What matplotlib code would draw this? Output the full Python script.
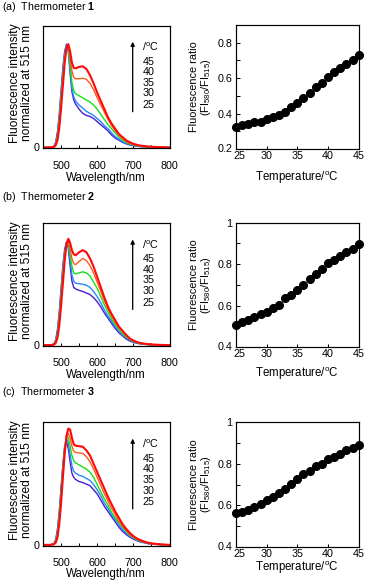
import matplotlib
matplotlib.use("Agg")
import matplotlib.pyplot as plt
from matplotlib.ticker import MultipleLocator, FixedLocator
from matplotlib.transforms import ScaledTranslation

plt.rcParams['font.family'] = ['Liberation Sans', 'DejaVu Sans']
plt.rcParams['mathtext.fontset'] = 'custom'
plt.rcParams['mathtext.rm'] = 'Liberation Sans'
plt.rcParams['mathtext.it'] = 'Liberation Sans:italic'
plt.rcParams['mathtext.bf'] = 'Liberation Sans:bold'

# ---------------- data ----------------
temps_legend = ["45", "40", "35", "30", "25"]
curve_temps = [25, 30, 35, 40, 45]
curve_colors = ["#4a1ed6", "#2a86ff", "#16e016", "#ff5a1e", "#ff0a0a"]

wl = [450, 470, 480, 485, 490, 495, 500, 505, 510, 515, 520, 525, 530, 535, 540,
      550, 560, 570, 580, 590, 600, 610, 620, 630, 640, 650, 660, 670, 680, 690,
      700, 710, 720, 740, 760, 780, 800]

# Thermometer 1 spectra (25, 30, 35, 40, 45 degC)
spec1_25 = [0, 0, 0.01, 0.05, 0.15, 0.32, 0.55, 0.77, 0.93, 1.00, 0.93, 0.72, 0.54, 0.46, 0.42,
            0.37, 0.33, 0.31, 0.30, 0.28, 0.25, 0.22, 0.19, 0.16, 0.12, 0.09, 0.07, 0.05, 0.035, 0.025,
            0.017, 0.012, 0.008, 0.003, 0.001, 0, 0]
spec1_30 = [0, 0, 0.01, 0.04, 0.13, 0.30, 0.52, 0.74, 0.91, 0.99, 0.95, 0.76, 0.57, 0.49, 0.45,
            0.41, 0.38, 0.35, 0.33, 0.31, 0.28, 0.25, 0.21, 0.18, 0.14, 0.105, 0.08, 0.055, 0.04, 0.028,
            0.02, 0.014, 0.01, 0.004, 0.001, 0, 0]
spec1_35 = [0, 0, 0.008, 0.035, 0.11, 0.27, 0.48, 0.70, 0.88, 0.98, 0.97, 0.81, 0.63, 0.55, 0.52,
            0.50, 0.48, 0.46, 0.44, 0.41, 0.37, 0.32, 0.27, 0.22, 0.18, 0.14, 0.10, 0.07, 0.05, 0.035,
            0.025, 0.017, 0.012, 0.005, 0.002, 0, 0]
spec1_40 = [0, 0, 0.006, 0.03, 0.09, 0.23, 0.43, 0.65, 0.85, 0.97, 0.99, 0.87, 0.74, 0.68, 0.665,
            0.665, 0.67, 0.66, 0.62, 0.56, 0.48, 0.41, 0.34, 0.27, 0.21, 0.16, 0.12, 0.085, 0.06, 0.04,
            0.03, 0.02, 0.015, 0.007, 0.003, 0.001, 0]
spec1_45 = [0, 0, 0.005, 0.02, 0.07, 0.19, 0.38, 0.60, 0.82, 0.96, 1.00, 0.93, 0.82, 0.77, 0.765,
            0.78, 0.785, 0.76, 0.70, 0.62, 0.53, 0.45, 0.37, 0.29, 0.23, 0.18, 0.13, 0.10, 0.07, 0.05,
            0.035, 0.025, 0.018, 0.01, 0.005, 0.002, 0]

# Thermometer 2 spectra
spec2_25 = [0, 0, 0.01, 0.05, 0.15, 0.32, 0.55, 0.77, 0.93, 1.00, 0.94, 0.77, 0.62, 0.56, 0.545,
            0.53, 0.52, 0.505, 0.49, 0.46, 0.42, 0.37, 0.31, 0.26, 0.21, 0.16, 0.12, 0.09, 0.06, 0.04,
            0.028, 0.018, 0.012, 0.005, 0.002, 0, 0]
spec2_30 = [0, 0, 0.01, 0.04, 0.13, 0.30, 0.52, 0.74, 0.91, 0.99, 0.96, 0.82, 0.68, 0.62, 0.60,
            0.595, 0.59, 0.58, 0.56, 0.52, 0.47, 0.41, 0.34, 0.28, 0.23, 0.18, 0.14, 0.10, 0.07, 0.05,
            0.032, 0.022, 0.015, 0.006, 0.002, 0, 0]
spec2_35 = [0, 0, 0.008, 0.035, 0.11, 0.27, 0.48, 0.70, 0.88, 0.98, 0.98, 0.88, 0.76, 0.70, 0.69,
            0.70, 0.71, 0.70, 0.67, 0.61, 0.55, 0.47, 0.39, 0.32, 0.25, 0.20, 0.15, 0.11, 0.08, 0.055,
            0.035, 0.025, 0.017, 0.007, 0.003, 0, 0]
spec2_40 = [0, 0, 0.006, 0.03, 0.09, 0.23, 0.43, 0.65, 0.85, 0.99, 1.00, 0.93, 0.84, 0.79, 0.78,
            0.81, 0.84, 0.82, 0.77, 0.70, 0.61, 0.52, 0.43, 0.35, 0.28, 0.22, 0.17, 0.13, 0.09, 0.06,
            0.04, 0.028, 0.02, 0.009, 0.004, 0.001, 0]
spec2_45 = [0, 0, 0.005, 0.02, 0.07, 0.19, 0.38, 0.60, 0.82, 0.98, 1.03, 0.99, 0.92, 0.88, 0.87,
            0.90, 0.92, 0.90, 0.84, 0.76, 0.66, 0.56, 0.46, 0.37, 0.30, 0.24, 0.18, 0.14, 0.10, 0.065,
            0.045, 0.03, 0.02, 0.01, 0.005, 0.002, 0]

# Thermometer 3 spectra
spec3_25 = [0, 0, 0.01, 0.05, 0.15, 0.32, 0.55, 0.77, 0.95, 0.99, 0.93, 0.80, 0.69, 0.65, 0.63,
            0.61, 0.60, 0.585, 0.57, 0.53, 0.49, 0.43, 0.37, 0.32, 0.27, 0.22, 0.17, 0.13, 0.10, 0.075,
            0.055, 0.04, 0.028, 0.012, 0.005, 0.001, 0]
spec3_30 = [0, 0, 0.01, 0.04, 0.13, 0.30, 0.53, 0.76, 0.94, 1.02, 0.98, 0.87, 0.76, 0.71, 0.69,
            0.67, 0.66, 0.64, 0.62, 0.58, 0.53, 0.47, 0.40, 0.35, 0.29, 0.24, 0.19, 0.15, 0.115, 0.085,
            0.062, 0.045, 0.032, 0.014, 0.006, 0.002, 0]
spec3_35 = [0, 0, 0.008, 0.035, 0.11, 0.27, 0.50, 0.73, 0.93, 1.04, 1.03, 0.95, 0.86, 0.81, 0.79,
            0.77, 0.75, 0.73, 0.70, 0.65, 0.58, 0.51, 0.44, 0.38, 0.31, 0.26, 0.21, 0.17, 0.13, 0.095,
            0.07, 0.05, 0.037, 0.016, 0.007, 0.002, 0]
spec3_40 = [0, 0, 0.006, 0.03, 0.09, 0.23, 0.45, 0.69, 0.90, 1.04, 1.07, 1.03, 0.95, 0.90, 0.89,
            0.885, 0.88, 0.85, 0.80, 0.73, 0.65, 0.57, 0.49, 0.42, 0.35, 0.29, 0.23, 0.18, 0.14, 0.10,
            0.075, 0.055, 0.04, 0.018, 0.008, 0.003, 0]
spec3_45 = [0, 0, 0.005, 0.02, 0.07, 0.20, 0.40, 0.65, 0.88, 1.05, 1.12, 1.11, 1.03, 0.97, 0.955,
            0.95, 0.945, 0.91, 0.86, 0.78, 0.70, 0.62, 0.54, 0.46, 0.39, 0.32, 0.26, 0.20, 0.155, 0.115,
            0.085, 0.06, 0.045, 0.02, 0.01, 0.004, 0]

spectra = [
    [spec1_25, spec1_30, spec1_35, spec1_40, spec1_45],
    [spec2_25, spec2_30, spec2_35, spec2_40, spec2_45],
    [spec3_25, spec3_30, spec3_35, spec3_40, spec3_45],
]

temperature = list(range(25, 46))
ratio1 = [0.326, 0.333, 0.34, 0.35, 0.355, 0.367, 0.38, 0.392, 0.41, 0.435, 0.462,
          0.49, 0.515, 0.548, 0.575, 0.606, 0.635, 0.656, 0.682, 0.703, 0.728]
ratio2 = [0.507, 0.52, 0.53, 0.545, 0.56, 0.571, 0.59, 0.605, 0.635, 0.65, 0.675,
          0.70, 0.73, 0.755, 0.775, 0.804, 0.82, 0.84, 0.86, 0.875, 0.897]
ratio3 = [0.562, 0.568, 0.578, 0.592, 0.607, 0.624, 0.638, 0.66, 0.68, 0.703, 0.726,
          0.752, 0.766, 0.787, 0.80, 0.822, 0.832, 0.847, 0.865, 0.872, 0.889]
ratios = [ratio1, ratio2, ratio3]

panel_letters = ["(a)", "(b)", "(c)"]
panel_numbers = ["1", "2", "3"]
ratio_ylims = [(0.2, 0.9), (0.4, 1.0), (0.4, 1.0)]
ratio_yticks = [[0.2, 0.4, 0.6, 0.8], [0.4, 0.6, 0.8, 1.0], [0.4, 0.6, 0.8, 1.0]]
ratio_yticklabels = [["0.2", "0.4", "0.6", "0.8"], ["0.4", "0.6", "0.8", "1"], ["0.4", "0.6", "0.8", "1"]]

# ---------------- layout ----------------
W, H = 366, 582
DPI = 72
fig = plt.figure(figsize=(W / DPI, H / DPI), dpi=DPI)
fig.patch.set_facecolor("white")

left_box = [(43, 25.5, 169.5, 148.3), (43, 223.3, 169.5, 346.0), (43, 422.3, 169.5, 545.7)]
right_box = [(236, 25, 358.7, 149), (236, 222.7, 358.7, 347.3), (236, 421.7, 358.7, 547.3)]
title_y = [7, 197, 392]
left_xlabel_y = [178, 375, 574]
right_xlabel_y = [178, 374, 568]

def px_axes(box):
    x0, y0, x1, y1 = box
    return fig.add_axes([x0 / W, 1 - y1 / H, (x1 - x0) / W, (y1 - y0) / H])

FS = 10.8
LFS = 11.5
for i in range(3):
    # title
    fig.text(2 / W, 1 - title_y[i] / H,
             panel_letters[i] + "  Thermometer $\\mathbf{" + panel_numbers[i] + "}$",
             fontsize=10.6, va="center", ha="left")

    # spectra
    box = left_box[i]
    ax = px_axes(box)
    for t, c, y in zip(curve_temps, curve_colors, spectra[i]):
        ax.plot(wl, y, color=c, lw=2.1 if t == 45 else 1.4, solid_joinstyle="round")
    ax.set_xlim(450, 800)
    ax.set_ylim(-0.008, 1.18)
    ax.xaxis.set_major_locator(FixedLocator([500, 600, 700, 800]))
    ax.xaxis.set_minor_locator(FixedLocator([550, 650, 750]))
    ax.set_yticks([0])
    ax.set_yticklabels(["0"])
    ax.tick_params(axis="x", which="both", direction="in", length=3.5, width=1,
                   pad=12.5, labelsize=FS)
    ax.tick_params(axis="y", which="both", length=0, pad=3, labelsize=FS)
    for s in ax.spines.values():
        s.set_linewidth(1.2)
    ax.set_xlabel("Wavelength/nm", fontsize=LFS, va="center")
    hgt = box[3] - box[1]
    ax.xaxis.set_label_coords(0.5, -(left_xlabel_y[i] - box[3]) / hgt)
    ax.set_ylabel("Fluorescence intensity\nnormalized at 515 nm", fontsize=12,
                  linespacing=1.0, va="center")
    ax.yaxis.set_label_coords(-0.17, 0.53)

    # temperature arrow + legend
    ax.annotate("", xy=(0.709, 0.868), xytext=(0.709, 0.298),
                xycoords="axes fraction",
                arrowprops=dict(arrowstyle="-|>", color="black", lw=1.3,
                                mutation_scale=8, shrinkA=0, shrinkB=0))
    ax.text(0.785, 0.828, "/$^{\\mathrm{o}}$C", transform=ax.transAxes,
            fontsize=FS, va="center", ha="left")
    for lbl, yy in zip(temps_legend, [0.705, 0.62, 0.534, 0.447, 0.354]):
        ax.text(0.785, yy, lbl, transform=ax.transAxes, fontsize=FS,
                va="center", ha="left")

    # ratio plot
    rbox = right_box[i]
    axr = px_axes(rbox)
    axr.plot(temperature, ratios[i], "o", color="black", ms=8, mec="black",
             clip_on=False, zorder=3)
    axr.set_xlim(25, 45)
    axr.set_ylim(*ratio_ylims[i])
    axr.set_xticks([25, 30, 35, 40, 45])
    axr.set_yticks(ratio_yticks[i])
    axr.set_yticklabels(ratio_yticklabels[i])
    axr.yaxis.set_minor_locator(MultipleLocator(0.1))
    axr.tick_params(axis="both", which="both", direction="in", length=3.5, width=1,
                    labelsize=FS)
    axr.tick_params(axis="x", pad=2)
    axr.tick_params(axis="y", pad=4)
    # nudge the corner labels apart so "25" and the lowest y label do not collide
    first_x = axr.get_xticklabels()[0]
    first_x.set_transform(first_x.get_transform() +
                          ScaledTranslation(3 / DPI, 0, fig.dpi_scale_trans))
    first_y = axr.get_yticklabels()[0]
    first_y.set_transform(first_y.get_transform() +
                          ScaledTranslation(0, 1.5 / DPI, fig.dpi_scale_trans))
    for s in axr.spines.values():
        s.set_linewidth(1.2)
    axr.set_xlabel("Temperature/$^{\\mathrm{o}}$C", fontsize=LFS, va="center")
    rh = rbox[3] - rbox[1]
    axr.xaxis.set_label_coords(0.5, -(right_xlabel_y[i] - rbox[3]) / rh)
    axr.set_ylabel("Fluorescence ratio\n(FI$_{580}$/FI$_{515}$)", fontsize=11,
                   linespacing=0.95, va="center")
    axr.yaxis.set_label_coords(-(236 - 201) / (rbox[2] - rbox[0]), 0.5)

fig.savefig("out.png", dpi=DPI, facecolor="white")
